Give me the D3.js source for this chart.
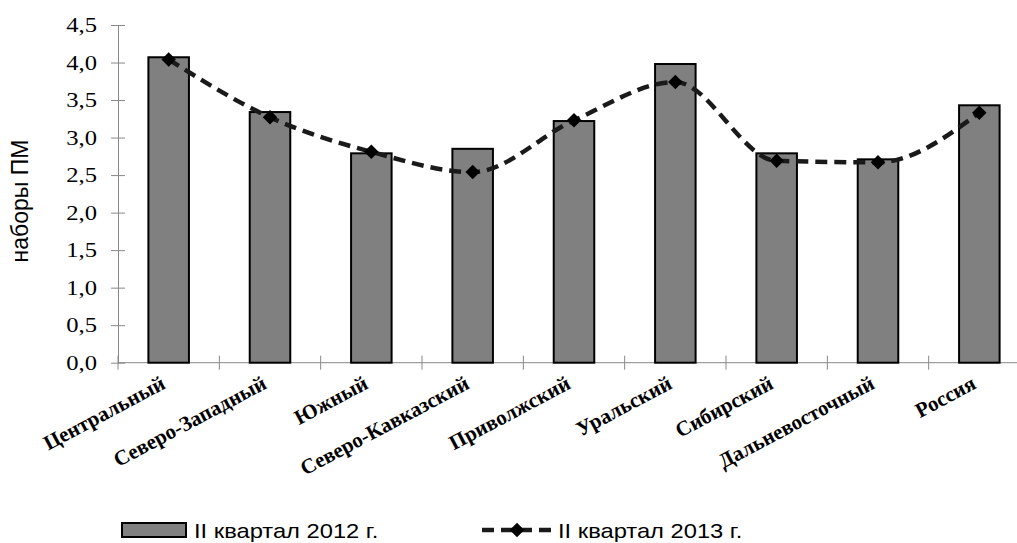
<!DOCTYPE html>
<html><head><meta charset="utf-8">
<script src="https://cdn.jsdelivr.net/npm/d3@7/dist/d3.min.js"></script>
<style>body{margin:0;background:#fff}svg{display:block}</style>
</head><body>
<svg id="c" width="1017" height="543"></svg>
<script>
const categories = ["Центральный","Северо-Западный","Южный","Северо-Кавказский","Приволжский","Уральский","Сибирский","Дальневосточный","Россия"];
const values2012 = [4.07,3.34,2.79,2.85,3.22,3.98,2.79,2.71,3.43];
const values2013 = [4.04,3.27,2.81,2.54,3.23,3.74,2.69,2.67,3.33];
const yTicks = [0,0.5,1,1.5,2,2.5,3,3.5,4,4.5];
const seriesNames = ["II квартал 2012 г.","II квартал 2013 г."];
const yTitle = "наборы ПМ";

const SERIF = "'Liberation Serif', 'Times New Roman', serif";
const SANS = "'Liberation Sans', Arial, sans-serif";
const svg = d3.select("#c");
const pL = 118, pR = 1030, pT = 25, pB = 362.7;
const x = d3.scaleBand().domain(categories).range([pL,pR]).paddingInner(0.6).paddingOuter(0.3);
const xb = d3.scaleBand().domain(categories).range([pL,pR]);
const y = d3.scaleLinear().domain([0,4.5]).range([pB,pT]);
const fmt = d=>d3.format(".1f")(d).replace(".",",");

// y axis
const ya = svg.append("g").attr("transform",`translate(${pL},0)`)
  .call(d3.axisLeft(y).tickValues(yTicks).tickSize(7).tickSizeOuter(0).tickFormat(""));
ya.select(".domain").attr("stroke","#888");
ya.selectAll(".tick line").attr("stroke","#888").attr("x2",-7).attr("x1",7);
ya.selectAll(".tick text").remove();
svg.selectAll(".yl").data(yTicks).enter().append("text")
  .attr("transform",d=>`translate(${pL-21},${y(d)+7}) scale(1.12,1)`)
  .attr("text-anchor","end").attr("font-family",SERIF).attr("font-size",22).attr("fill","#000")
  .text(fmt);

// x axis
svg.append("line").attr("x1",pL).attr("x2",pR).attr("y1",pB).attr("y2",pB).attr("stroke","#888");
svg.selectAll(".xt").data(categories.concat(["_end"])).enter().append("line")
  .attr("x1",(d,i)=> i<categories.length? xb(d): pR).attr("x2",(d,i)=> i<categories.length? xb(d): pR)
  .attr("y1",pB-7).attr("y2",pB+7).attr("stroke","#888");

// bars
svg.selectAll(".bar").data(values2012).enter().append("rect")
  .attr("x",(d,i)=>x(categories[i])).attr("width",x.bandwidth())
  .attr("y",d=>y(d)).attr("height",d=>pB-y(d))
  .attr("fill","#808080").attr("stroke","#000").attr("stroke-width",2);

// line
const cx = (i)=> xb(categories[i]) + xb.bandwidth()/2;
const line = d3.line().x((d,i)=>cx(i)).y(d=>y(d)).curve(d3.curveMonotoneX);
svg.append("path").datum(values2013).attr("d",line).attr("fill","none")
  .attr("stroke","#1a1a1a").attr("stroke-width",4.5).attr("stroke-dasharray","12,7");
const diamond = d3.symbol().type(d3.symbolSquare).size(105);
svg.selectAll(".mk").data(values2013).enter().append("path")
  .attr("d",diamond).attr("transform",(d,i)=>`translate(${cx(i)},${y(d)}) rotate(45)`)
  .attr("fill","#000");

// category labels
svg.selectAll(".cl").data(categories).enter().append("text")
  .attr("transform",(d)=>`translate(${xb(d)+xb.bandwidth()/2-2},${pB+25}) rotate(-28)`)
  .attr("text-anchor","end").style("font-family",SERIF).style("font-weight","bold")
  .style("font-size","21px").attr("fill","#000").text(d=>d);

// y title
svg.append("text").attr("transform","translate(28,201) rotate(-90)").attr("text-anchor","middle")
  .style("font-family",SANS).style("font-size","23px").text(yTitle);

// legend
const lg = svg.append("g");
lg.append("rect").attr("x",122).attr("y",523).attr("width",64).attr("height",14)
  .attr("fill","#808080").attr("stroke","#000").attr("stroke-width",2);
lg.append("text").attr("transform","translate(194,538) scale(1.13,1)")
  .style("font-family",SANS).style("font-size","21px").text(seriesNames[0]);
lg.append("line").attr("x1",482).attr("x2",553).attr("y1",530).attr("y2",530)
  .attr("stroke","#1a1a1a").attr("stroke-width",4.5).attr("stroke-dasharray","12,7");
lg.append("path").attr("d",diamond).attr("transform","translate(517,530) rotate(45)").attr("fill","#000");
lg.append("text").attr("transform","translate(558,538) scale(1.13,1)")
  .style("font-family",SANS).style("font-size","21px").text(seriesNames[1]);
</script>
</body></html>
